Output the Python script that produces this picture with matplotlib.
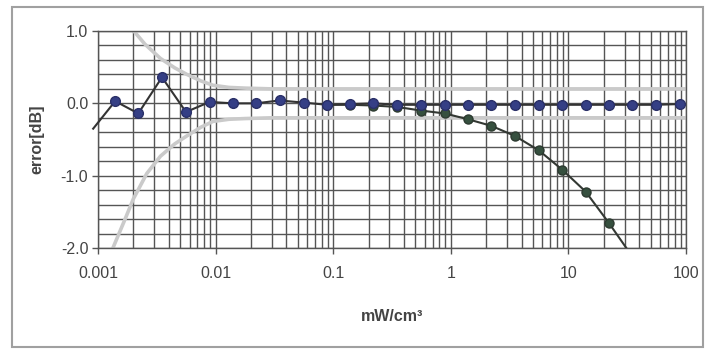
import matplotlib.pyplot as plt
import matplotlib.patches as mpatches
from matplotlib.ticker import LogLocator, MultipleLocator, FixedLocator, NullFormatter

plt.rcParams['font.family'] = ['Liberation Sans', 'DejaVu Sans']

# blue series (first x is just left of the axis, line only)
blue_x = [0.00091, 0.0014, 0.0022, 0.0035, 0.0056, 0.0089, 0.014, 0.022, 0.035, 0.056, 0.089,
          0.14, 0.22, 0.35, 0.56, 0.89, 1.4, 2.2, 3.5, 5.6, 8.9, 14, 22, 35, 56, 89]
blue_y = [-0.35, 0.03, -0.14, 0.36, -0.12, 0.02, 0.0, 0.0, 0.04, 0.01, -0.02,
          -0.01, 0.0, -0.02, -0.02, -0.02, -0.02, -0.02, -0.02, -0.02, -0.02, -0.02, -0.02, -0.02, -0.02, -0.01]

# green series (last point is below the axis, line only)
green_x = [0.089, 0.14, 0.22, 0.35, 0.56, 0.89, 1.4, 2.2, 3.5, 5.6, 8.9, 14, 22, 35]
green_y = [-0.02, -0.02, -0.03, -0.05, -0.10, -0.14, -0.22, -0.31, -0.45, -0.65, -0.92, -1.22, -1.65, -2.12]

# gray limit curves
upper_x = [0.0019, 0.0025, 0.0034, 0.0045, 0.0057, 0.0075, 0.0095, 0.013, 0.018, 0.03, 0.1, 1, 10, 100]
upper_y = [1.05, 0.82, 0.62, 0.49, 0.40, 0.31, 0.25, 0.22, 0.21, 0.2, 0.2, 0.2, 0.2, 0.2]
lower_x = [0.0013, 0.0017, 0.002, 0.0026, 0.0034, 0.0045, 0.0057, 0.0075, 0.0095, 0.013, 0.018, 0.03, 0.1, 1, 10, 100]
lower_y = [-2.05, -1.6, -1.32, -0.97, -0.73, -0.56, -0.45, -0.33, -0.25, -0.22, -0.21, -0.2, -0.2, -0.2, -0.2, -0.2]

x_ticks = [0.001, 0.01, 0.1, 1, 10, 100]
x_labels = ['0.001', '0.01', '0.1', '1', '10', '100']
y_ticks = [-2.0, -1.0, 0.0, 1.0]
y_labels = ['-2.0', '-1.0', '0.0', '1.0']

fig = plt.figure(figsize=(7.06, 3.5), dpi=100)
ax = fig.add_axes([0.1388, 0.2914, 0.8329, 0.62])

# outer frame
fig.patches.append(mpatches.Rectangle((12 / 706, 3 / 350), 691 / 706, 340 / 350,
                                      transform=fig.transFigure, fill=False,
                                      edgecolor='#a0a0a0', lw=1.5))

ax.set_xscale('log')
ax.set_xlim(0.001, 100)
ax.set_ylim(-2.0, 1.0)

grid_c = '#555555'
ax.xaxis.set_major_locator(FixedLocator(x_ticks))
ax.xaxis.set_minor_locator(LogLocator(base=10, subs=range(2, 10)))
ax.xaxis.set_minor_formatter(NullFormatter())
ax.set_xticks(x_ticks, x_labels)
ax.yaxis.set_minor_locator(MultipleLocator(0.2))
ax.set_yticks(y_ticks, y_labels)
ax.grid(True, which='both', axis='x', color=grid_c, lw=1.0)
ax.grid(True, which='both', axis='y', color=grid_c, lw=1.0)
ax.set_axisbelow(True)

ax.tick_params(axis='both', which='major', direction='out', length=4, width=1, color=grid_c,
               labelsize=11.5, labelcolor='#444444')
ax.tick_params(axis='x', which='major', pad=9)
ax.tick_params(axis='y', which='major', pad=3)
ax.tick_params(axis='both', which='minor', length=0)
for s in ax.spines.values():
    s.set_color(grid_c)
    s.set_linewidth(1.0)

ax.plot(upper_x, upper_y, color='#cacaca', lw=2.6, zorder=2)
ax.plot(lower_x, lower_y, color='#cacaca', lw=2.6, zorder=2)

ax.plot(green_x, green_y, color='#333833', lw=1.5, marker='o', ms=6.5,
        mfc='#36503f', mec='#2c3a30', markevery=slice(0, len(green_x) - 1), zorder=3)
ax.plot(blue_x, blue_y, color='#333333', lw=1.5, marker='o', ms=7,
        mfc='#353f85', mec='#2a3068', markevery=slice(1, len(blue_x)), zorder=4,
        clip_on=False)

ax.set_ylabel('error[dB]', fontsize=11.5, fontweight='bold', color='#444444', labelpad=12)
ax.set_xlabel('mW/cm³', fontsize=11.5, fontweight='bold', color='#444444', labelpad=20)

fig.savefig('out.png', dpi=100)
